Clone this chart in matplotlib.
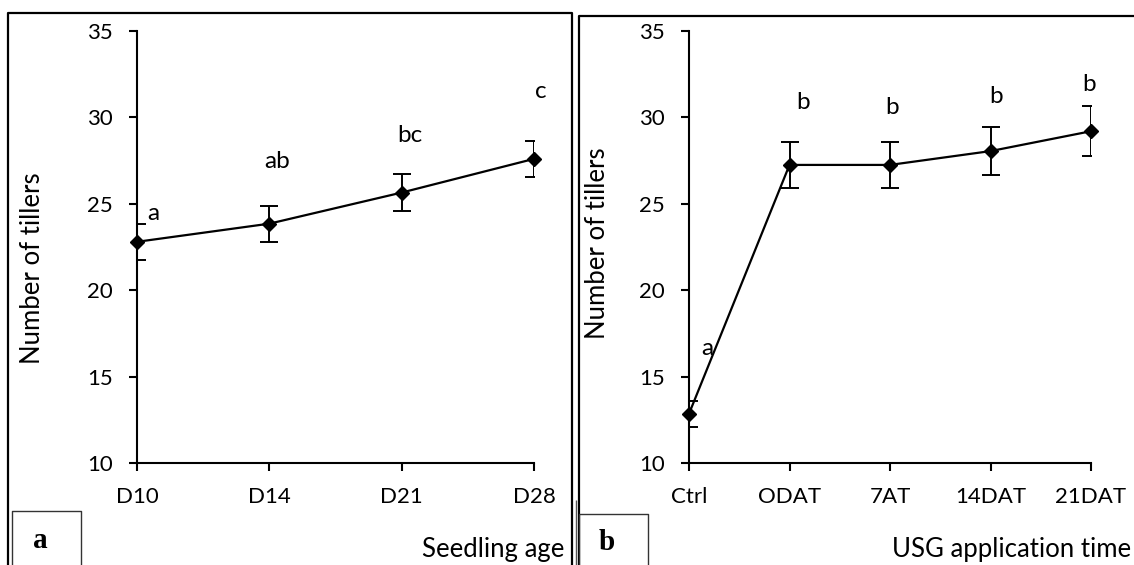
import matplotlib
matplotlib.use("Agg")
import matplotlib.pyplot as plt
from matplotlib.lines import Line2D

# Panel a: tillers by seedling age
age_labels = ["D10", "D14", "D21", "D28"]
age_tillers = [22.8, 23.85, 25.65, 27.6]
age_err = [1.05, 1.05, 1.05, 1.05]
age_letters = ["a", "ab", "bc", "c"]
age_letter_x = [0.125, 1.06, 2.06, 3.05]
age_letter_y = [24.45, 27.45, 28.95, 31.5]

# Panel b: tillers by USG application time
usg_labels = ["Ctrl", "ODAT", "7AT", "14DAT", "21DAT"]
usg_tillers = [12.85, 27.25, 27.25, 28.05, 29.2]
usg_err = [0.75, 1.35, 1.35, 1.4, 1.45]
usg_letters = ["a", "b", "b", "b", "b"]
usg_letter_x = [0.18, 1.13, 2.02, 3.06, 3.98]
usg_letter_y = [16.6, 30.85, 30.55, 31.2, 31.9]

W, H = 1134, 565
FONT = "Lato"
plt.rcParams["font.family"] = [FONT, "DejaVu Sans"]

TICK_SIZE = 16
LABEL_SIZE = 18.5
LETTER_SIZE = 17.5

fig = plt.figure(figsize=(W / 100, H / 100), dpi=100)


def fx(px):
    return px / W


def fy(py):
    return 1 - py / H


def fig_line(xs, ys, lw=1.5, color="black"):
    fig.add_artist(Line2D([fx(x) for x in xs], [fy(y) for y in ys],
                          transform=fig.transFigure, lw=lw, color=color,
                          solid_capstyle="butt"))


# outer panel frames
fig_line([8, 8, 572, 572], [570, 13, 13, 570], lw=1.6)
fig_line([579, 579, 1140], [570, 15.5, 15.5], lw=1.6)
fig_line([575.5, 575.5], [500, 570], lw=1.0, color="#555555")

# panel tag boxes
for (x0, x1, y0, tag, tx, ty) in [(12, 81, 511, "a", 40, 541),
                                  (579, 648, 514, "b", 607, 542)]:
    fig_line([x0, x0, x1, x1], [570, y0, y0, 570], lw=1.0, color="#333333")
    fig.text(fx(tx), fy(ty), tag, family="Liberation Serif", weight="bold",
             fontsize=21, ha="center", va="center")


def make_panel(rect_px, labels, vals, errs, letters, lx, ly, xlabel,
               xlabel_right, ylabel_x, ylabel_y):
    x0, x1, ytop, ybot = rect_px
    ax = fig.add_axes([fx(x0), fy(ybot), fx(x1) - fx(x0), fy(ytop) - fy(ybot)])
    n = len(labels)
    xs = list(range(n))
    ax.errorbar(xs, vals, yerr=errs, fmt="none", ecolor="black",
                elinewidth=1.4, capsize=6.5, capthick=1.4, clip_on=True,
                zorder=3)
    ax.plot(xs, vals, color="black", lw=1.6, marker="D", markersize=7.5,
            clip_on=False, zorder=4)
    ax.set_xlim(0, n - 1)
    ax.set_ylim(10, 35)
    ax.set_yticks([10, 15, 20, 25, 30, 35])
    ax.set_xticks(xs)
    ax.set_xticklabels(labels)
    for side in ("top", "right"):
        ax.spines[side].set_visible(False)
    for side in ("left", "bottom"):
        ax.spines[side].set_linewidth(1.5)
    ax.tick_params(axis="both", direction="out", length=6, width=1.5,
                   labelsize=TICK_SIZE, colors="black")
    ax.tick_params(axis="y", pad=11.5)
    ax.tick_params(axis="x", pad=11)
    for txt, x, y in zip(letters, lx, ly):
        ax.text(x, y, txt, fontsize=LETTER_SIZE, ha="center", va="center",
                clip_on=False)
    ax.set_ylabel("Number of tillers", fontsize=LABEL_SIZE)
    ax.yaxis.set_label_coords((ylabel_x - x0) / (x1 - x0),
                              (ybot - ylabel_y) / (ybot - ytop))
    ax.patch.set_alpha(0)
    fig.text(fx(xlabel_right), fy(550), xlabel, fontsize=LABEL_SIZE,
             ha="right", va="center")
    return ax


make_panel((137, 534, 31, 463), age_labels, age_tillers, age_err,
           age_letters, age_letter_x, age_letter_y, "Seedling age", 564,
           45, 268)
make_panel((689, 1091, 31, 463), usg_labels, usg_tillers, usg_err,
           usg_letters, usg_letter_x, usg_letter_y, "USG application time",
           1131, 610, 243)

fig.savefig("out.png", dpi=100)
